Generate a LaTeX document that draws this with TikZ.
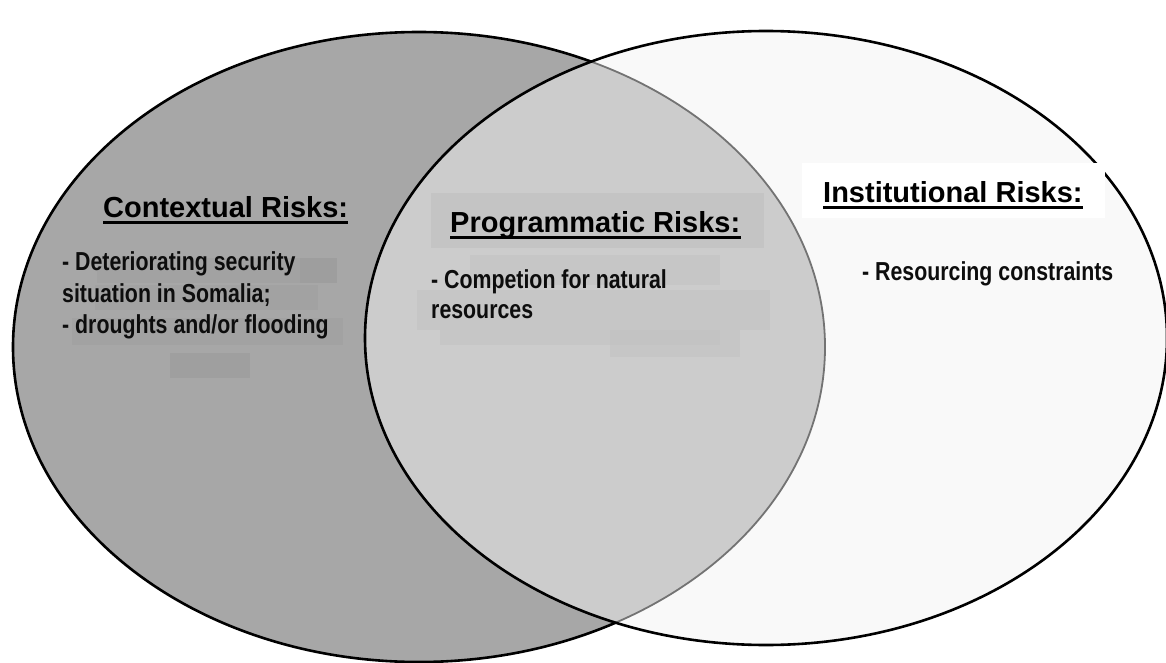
\documentclass[tikz,border=0pt]{standalone}
\usepackage{fontspec}
\setmainfont{Liberation Sans}
\newfontfamily\bodyfont[FakeStretch=0.82]{Liberation Sans}
\begin{document}
\begin{tikzpicture}[x=1pt,y=-1pt,
  title/.style={inner sep=0pt, anchor=base west, font=\fontsize{29}{34}\selectfont\bfseries},
  body/.style={inner sep=0pt, anchor=base west, font=\bodyfont\fontsize{26}{30}\selectfont\bfseries, text=black!95},
  uline/.style={line width=3pt, black}
]
\useasboundingbox (0,0) rectangle (1166,663);
\fill[white] (0,0) rectangle (1166,663);
% colours
\definecolor{leftgrey}{HTML}{A7A7A7}
\definecolor{overlapgrey}{HTML}{CCCCCC}
\definecolor{rightwhite}{HTML}{F9F9F9}
\definecolor{boxgrey}{HTML}{C4C4C4}
\definecolor{smudgeA}{HTML}{9B9B9B}
\definecolor{smudgeB}{HTML}{C2C2C2}
% left ellipse
\fill[leftgrey] (419,347) ellipse [x radius=406pt, y radius=315pt];
\draw[line width=2.6pt, black] (419,347) ellipse [x radius=406pt, y radius=315pt];
% right ellipse
\fill[rightwhite] (766,338) ellipse [x radius=401pt, y radius=307pt];
% overlap
\begin{scope}
  \clip (419,347) ellipse [x radius=406pt, y radius=315pt];
  \fill[overlapgrey] (766,338) ellipse [x radius=401pt, y radius=307pt];
\end{scope}
\begin{scope}
  \clip (766,338) ellipse [x radius=401pt, y radius=307pt];
  \draw[line width=1.8pt, black!55] (419,347) ellipse [x radius=406pt, y radius=315pt];
\end{scope}
\draw[line width=2.6pt, black] (766,338) ellipse [x radius=401pt, y radius=307pt];
% smudges (left)
\fill[smudgeA, opacity=0.35] (97,258) rectangle (337,283);
\fill[smudgeA, opacity=0.5] (300,258) rectangle (337,283);
\fill[smudgeA, opacity=0.35] (95,285) rectangle (318,310);
\fill[smudgeA, opacity=0.35] (72,318) rectangle (343,345);
\fill[smudgeA, opacity=0.6] (170,353) rectangle (250,378);
% smudges (overlap)
\fill[smudgeB, opacity=0.5] (470,255) rectangle (720,285);
\fill[smudgeB, opacity=0.5] (417,290) rectangle (770,330);
\fill[smudgeB, opacity=0.5] (440,330) rectangle (720,345);
\fill[smudgeB, opacity=0.5] (610,330) rectangle (740,357);
% title boxes
\fill[boxgrey] (431,193) rectangle (764,248);
\fill[white] (802,163) rectangle (1105,218);
% titles
\node[title] (ctx) at (103,217) {Contextual Risks:};
\draw[uline] ([yshift=-5pt]ctx.base west) -- ([yshift=-5pt]ctx.base east);
\node[title] (prog) at (450,232) {Programmatic Risks:};
\draw[uline] ([yshift=-5pt]prog.base west) -- ([yshift=-5pt]prog.base east);
\node[title] (inst) at (823,202) {Institutional Risks:};
\draw[uline] ([yshift=-5pt]inst.base west) -- ([yshift=-5pt]inst.base east);
% body texts
\node[body] (c1) at (62,270) {- Deteriorating security};
\node[body] (c2) at (62,302) {situation in Somalia;};
\node[body] (c3) at (62,333) {- droughts and/or flooding};
\node[body] (p1) at (431,288) {- Competion for natural};
\node[body] (p2) at (431,318) {resources};
\node[body] (i1) at (862,280) {- Resourcing constraints};
\end{tikzpicture}
\end{document}
